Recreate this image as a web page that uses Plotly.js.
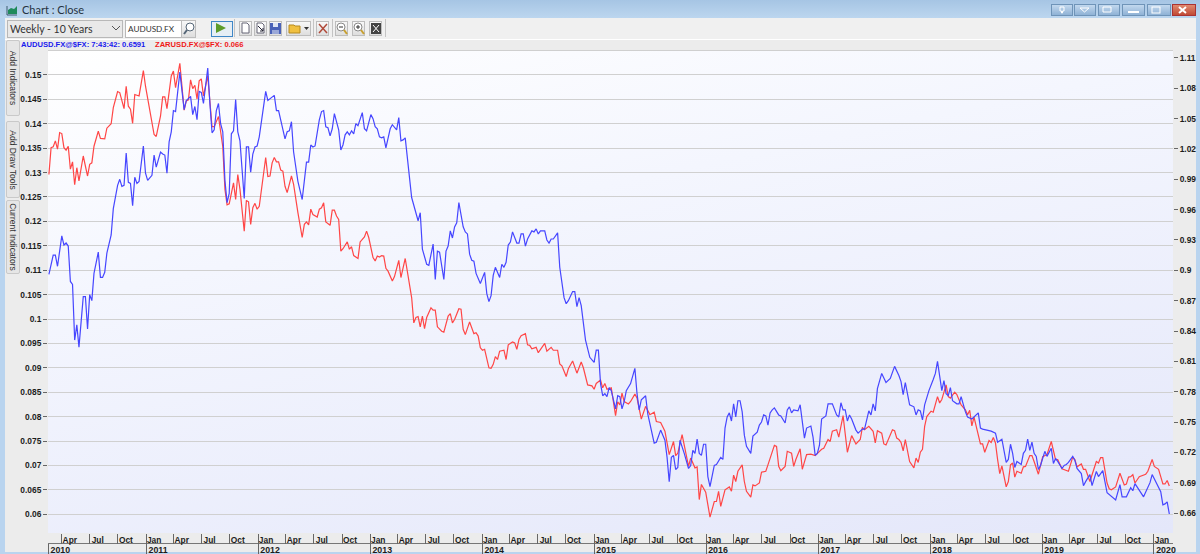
<!DOCTYPE html>
<html><head><meta charset="utf-8">
<script src="https://cdn.plot.ly/plotly-3.0.1.min.js"></script>
<style>
html,body{margin:0;padding:0;background:#f0f0f0;overflow:hidden}
#win{position:relative;width:1200px;height:554px;overflow:hidden;background:#f0f0f0;font-family:Lato,"Open Sans",sans-serif}
.a{position:absolute}
#titlebar{left:0;top:0;width:1200px;height:18px;background:linear-gradient(#a6c5e4,#bcd6ef)}
#fl{left:0;top:18px;width:5px;height:536px;background:#b9d4ef}
#fr{left:1196px;top:18px;width:4px;height:536px;background:#b9d4ef}
#fb{left:0;top:552px;width:1200px;height:2px;background:#b9d4ef}
#panel{left:5px;top:39px;width:1191px;height:513px;background:#ececec;border-top:1px solid #fff}
#plotbg{left:48px;top:50px;width:1125px;height:483px;background:linear-gradient(168deg,#ffffff 0%,#f4f6fe 35%,#e4e7fa 100%);border-top:1px solid #cfcfcf;box-sizing:border-box}
#gd{left:0;top:0;width:1200px;height:554px}
.tab{background:#e6e6e6;border:1px solid #c9c9c9;border-radius:2px;width:12px;box-sizing:content-box}
.tab span{position:absolute;left:50%;top:50%;transform:translate(-50%,-50%) rotate(90deg);white-space:nowrap;font-family:"Liberation Sans",sans-serif;font-size:8.5px;color:#333}
.field{background:#fff;border:1px solid #b8b8b8;font-size:10.5px;color:#333;line-height:16px;height:16px;padding-left:2px;box-sizing:content-box}
.btn{background:linear-gradient(#f8f8f8,#dedede);border:1px solid #bdbdbd;box-sizing:border-box}
.wb{top:4px;height:12px;width:22px;background:linear-gradient(#c2d8ee,#8fb2d5);border:1px solid #6f94b8;box-sizing:border-box}
.sep{width:1px;height:18px;top:19px;background:#c4c4c4}
</style></head>
<body>
<div id="win">
 <div class="a" id="titlebar"></div>
 <div class="a" id="panel"></div>
 <div class="a" id="fl"></div><div class="a" id="fr"></div><div class="a" id="fb"></div>
 <div class="a" id="plotbg"></div>
 <svg class="a" style="left:6px;top:3px" width="12" height="13"><path d="M1 12V3M1 12H11" stroke="#3c5a6e" fill="none"/><path d="M2 11V7L5 5L8 6L11 3V11Z" fill="#1f8a5b"/></svg>
 <div class="a field" style="left:7px;top:20px;width:112px;background:#e9e9e9">Weekly - 10 Years</div>
 <svg class="a" style="left:112px;top:26px" width="8" height="5"><path d="M0 0L4 4L8 0" stroke="#555" fill="none"/></svg>
 <div class="a field" style="left:125px;top:20px;width:53px;font-size:8.2px">AUDUSD.FX</div>
 <div class="a btn" style="left:181px;top:20px;width:15px;height:18px"></div>
 <svg class="a" style="left:182px;top:21px" width="14" height="15"><circle cx="8" cy="6" r="4" fill="#fff" stroke="#567"/><path d="M5 9L2 13" stroke="#567" stroke-width="2"/></svg>
 <div class="a" style="left:211px;top:21px;width:20px;height:14px;border:1px solid #3f87c7;background:#e6eef5;box-sizing:content-box"></div>
 <svg class="a" style="left:216px;top:23px" width="11" height="11"><path d="M0 0L10 5L0 10Z" fill="#5d9c2a"/></svg>
 <div class="a sep" style="left:234px"></div>
 <div class="a btn" style="left:239px;top:21px;width:13px;height:15px"></div>
 <svg class="a" style="left:240px;top:22px" width="11" height="13"><path d="M2 1H7L9 3V11H2Z" fill="#fff" stroke="#667"/></svg>
 <div class="a btn" style="left:254px;top:21px;width:13px;height:15px"></div>
 <svg class="a" style="left:255px;top:22px" width="11" height="13"><path d="M2 1H7L9 3V11H2Z" fill="#fff" stroke="#667"/><path d="M3 4L8 9M8 6V9H5" stroke="#223" fill="none"/></svg>
 <div class="a btn" style="left:269px;top:21px;width:13px;height:15px"></div>
 <svg class="a" style="left:270px;top:23px" width="11" height="11"><rect x="0" y="0" width="11" height="11" fill="#4a62b8"/><rect x="3" y="0" width="5" height="4" fill="#dfe6f5"/><rect x="2" y="7" width="7" height="4" fill="#9aa8d8"/></svg>
 <div class="a btn" style="left:286px;top:21px;width:25px;height:15px"></div>
 <svg class="a" style="left:288px;top:23px" width="22" height="11"><path d="M1 2H6L7 3H12V10H1Z" fill="#f0c040" stroke="#b58a20"/><path d="M16 4H21L18.500 7Z" fill="#333"/></svg>
 <div class="a sep" style="left:313px"></div>
 <div class="a btn" style="left:316px;top:21px;width:13px;height:15px"></div>
 <svg class="a" style="left:317px;top:22px" width="12" height="13"><path d="M2 2L10 11M10 2L2 11" stroke="#b04a3a" stroke-width="1.500"/></svg>
 <div class="a sep" style="left:332px"></div>
 <div class="a btn" style="left:335px;top:21px;width:13px;height:15px"></div>
 <div class="a btn" style="left:352px;top:21px;width:13px;height:15px"></div>
 <div class="a btn" style="left:369px;top:21px;width:13px;height:15px"></div>
 <svg class="a" style="left:336px;top:22px" width="12" height="13"><circle cx="5" cy="5" r="4" fill="#fff" stroke="#888"/><path d="M3 5H7" stroke="#333"/><path d="M8 8L11 12" stroke="#c8a030" stroke-width="2"/></svg>
 <svg class="a" style="left:353px;top:22px" width="12" height="13"><circle cx="5" cy="5" r="4" fill="#fff" stroke="#888"/><path d="M3 5H7M5 3V7" stroke="#333"/><path d="M8 8L11 12" stroke="#c8a030" stroke-width="2"/></svg>
 <svg class="a" style="left:370px;top:22px" width="12" height="13"><rect x="1" y="1" width="10" height="11" fill="#444"/><path d="M3 3L9 10M9 3L3 10" stroke="#fff"/></svg>
 <div class="a sep" style="left:385px"></div>
 <div class="a tab" style="left:6px;top:40px;height:74px"><span>Add Indicators</span></div>
 <div class="a tab" style="left:6px;top:121px;height:75px"><span>Add Draw Tools</span></div>
 <div class="a tab" style="left:6px;top:200px;height:72px"><span>Current Indicators</span></div>
 <div class="a wb" style="left:1051px"></div><div class="a wb" style="left:1074px"></div><div class="a wb" style="left:1098px"></div>
 <div class="a wb" style="left:1122px;width:23px"></div><div class="a wb" style="left:1147px;width:24px"></div>
 <div class="a wb" style="left:1172px;width:24px;background:linear-gradient(#e08a70,#c04a35);border-color:#a33"></div>
 <svg class="a" style="left:1051px;top:4px" width="146" height="12"><path d="M9 3h4v4h-1.500v2h-1v-2H9ZM29 4H38L33.500 8ZM52 3L60 3V8L52 8Z" fill="none" stroke="#fff"/><path d="M77 8H88" stroke="#fff" stroke-width="2"/><rect x="101" y="3" width="8" height="6" fill="none" stroke="#fff"/><path d="M128 3L135 9M135 3L128 9" stroke="#fff" stroke-width="2"/></svg>
 <div class="a" id="gd"></div>
</div>
<script>
// Weeks counted from the first bar of the ten-year window
const firstBar = Date.UTC(2010, 1, 18);
const audWeeks = [
0,1,2,3,4,6,7,8,9,10,11,12,13,14,15,16,17,18,19,20,21,23,24,25,26,27,29,30,32,33,
34,35,36,37,38,39,40,41,42,44,45,46,48,49,50,52,53,54,55,56,57,58,59,61,63,64,66,67,68,69,
70,71,72,74,75,76,77,78,79,80,81,82,83,84,85,86,87,88,89,91,92,93,94,95,96,97,98,101,102,103,
105,106,107,110,111,112,113,114,116,118,120,121,122,123,124,126,127,128,129,130,131,132,133,135,136,137,138,139,140,141,
142,143,144,146,147,148,150,151,152,153,154,155,156,157,159,160,162,163,164,165,166,169,172,173,174,176,177,179,180,181,
182,184,185,186,187,188,189,190,191,193,194,195,196,197,198,199,201,203,204,205,206,207,208,210,211,212,213,214,215,216,
218,219,220,221,222,223,225,226,227,228,229,231,232,233,234,235,237,238,239,240,241,242,244,245,246,247,248,250,252,254,
255,256,257,258,259,260,261,262,264,265,266,267,268,269,271,273,274,275,276,278,279,281,282,283,285,287,288,289,290,291,
292,293,294,296,298,299,300,301,302,303,304,305,306,307,308,310,311,313,314,315,316,317,318,319,320,321,322,323,324,325,
327,328,330,331,332,333,334,335,336,337,338,340,341,343,344,345,346,347,349,350,351,352,353,355,356,357,358,359,360,361,
362,363,365,367,368,369,370,371,372,373,374,376,377,378,379,380,382,383,384,385,386,388,390,392,394,396,397,398,399,401,
403,404,405,406,407,408,410,412,413,414,415,416,417,418,419,420,421,423,424,425,427,428,430,433,434,435,437,439,441,442,
444,446,447,448,449,450,451,453,454,455,456,457,458,459,460,461,462,464,465,467,468,469,470,472,473,474,475,477,478,479,
481,482,483,485,486,488,489,491,493,497,499,500,502,504,505,506,510,512,513,514,517,518,519,520,521,522];
const audClose = [
.896,.907,.915,.915,.904,.934,.925,.927,.924,.889,.886,.831,.846,.824,.854,.874,.874,.842,.876,.870,.897,.918,.893,.893,.898,.917,.935,.961,.984,.990,
.983,.984,1.016,.987,.986,.964,.992,.986,.988,1.023,.996,.989,.994,1.014,1.002,1.017,1.015,1.014,.996,1.027,1.037,1.058,1.057,1.096,1.059,1.068,1.072,1.054,1.062,1.049,
1.077,1.076,1.065,1.100,1.065,1.036,1.039,1.058,1.065,1.045,1.037,.989,.967,.976,1.035,1.038,1.069,1.037,1.028,.971,1.022,1.022,.997,1.015,1.022,1.023,1.032,1.077,1.068,1.070,
1.073,1.058,1.058,1.030,1.037,1.038,1.047,1.017,.988,.970,1.007,1.007,1.024,1.022,1.023,1.049,1.057,1.058,1.042,1.041,1.033,1.040,1.055,1.039,1.019,1.024,1.034,1.037,1.034,1.038,
1.035,1.045,1.043,1.056,1.040,1.038,1.054,1.050,1.042,1.040,1.032,1.031,1.032,1.021,1.040,1.044,1.039,1.051,1.028,1.029,1.031,.972,.949,.957,.921,.906,.905,.926,.891,.919,
.918,.891,.919,.924,.939,.932,.943,.947,.967,.943,.938,.936,.916,.910,.909,.897,.887,.898,.877,.869,.875,.895,.903,.893,.906,.903,.908,.925,.928,.938,
.927,.927,.936,.936,.924,.931,.939,.938,.941,.936,.939,.939,.930,.927,.931,.931,.937,.903,.890,.873,.867,.870,.879,.879,.864,.873,.865,.831,.814,.809,
.821,.821,.788,.776,.778,.775,.784,.781,.763,.776,.775,.763,.770,.781,.788,.803,.778,.762,.772,.776,.758,.740,.729,.730,.742,.732,.715,.691,.715,.717,
.703,.705,.732,.719,.704,.707,.722,.719,.733,.719,.717,.728,.728,.696,.686,.707,.708,.715,.713,.744,.755,.759,.751,.768,.755,.771,.771,.760,.737,.726,
.719,.736,.740,.747,.750,.757,.756,.747,.759,.762,.764,.757,.756,.749,.762,.765,.759,.762,.761,.767,.752,.734,.744,.746,.735,.717,.719,.727,.753,.755,
.756,.768,.768,.757,.755,.769,.762,.762,.751,.757,.753,.742,.739,.741,.743,.743,.761,.757,.768,.761,.783,.798,.789,.793,.805,.796,.790,.777,.789,.767,
.765,.757,.762,.761,.752,.767,.781,.792,.798,.810,.793,.781,.791,.778,.776,.784,.771,.768,.768,.775,.760,.755,.753,.759,.744,.743,.742,.741,.739,.730,
.733,.710,.713,.728,.719,.705,.711,.708,.719,.722,.733,.722,.730,.719,.716,.703,.707,.721,.716,.724,.709,.714,.711,.704,.707,.708,.710,.716,.712,.704,
.699,.687,.691,.698,.687,.701,.696,.702,.680,.673,.688,.676,.676,.685,.682,.689,.676,.686,.690,.698,.686,.681,.668,.669,.671,.659];
const zarWeeks = [
0,1,2,3,4,5,6,7,8,9,10,11,12,13,14,16,18,19,20,21,23,24,26,27,29,30,32,33,35,36,
37,38,39,40,42,44,45,49,50,52,53,54,55,57,58,59,61,63,64,65,66,67,68,69,70,71,72,74,76,77,
79,81,82,83,84,86,87,88,89,91,92,93,94,95,96,97,98,101,102,103,104,105,106,107,108,109,110,111,113,114,
116,118,119,120,121,122,123,124,125,126,127,128,129,131,132,133,134,135,136,137,139,140,141,142,144,145,147,148,149,151,
152,153,154,155,156,157,158,160,161,163,164,166,168,169,170,171,172,173,174,175,176,178,179,180,181,183,184,186,187,188,
189,191,192,193,194,196,198,199,200,201,202,203,205,206,207,208,209,210,212,213,214,216,217,218,219,220,222,223,224,225,
227,228,231,232,234,235,237,238,239,241,242,244,246,248,249,251,253,254,255,257,258,259,260,261,262,264,265,266,267,268,
270,271,273,274,276,278,280,282,283,285,287,289,291,292,293,295,298,299,301,302,303,304,306,308,310,311,312,313,315,317,
318,319,320,321,323,324,325,327,328,329,331,332,334,335,336,338,339,340,341,343,344,346,347,348,350,351,353,355,357,358,
360,361,362,363,364,365,367,368,370,372,374,376,378,379,380,382,384,385,386,388,389,390,393,394,395,396,397,398,399,401,
403,404,405,406,407,408,409,411,412,414,415,416,418,419,420,422,423,425,427,428,429,430,431,433,434,435,436,438,439,440,
441,442,443,444,446,447,448,449,450,451,453,454,455,457,458,459,461,463,465,467,469,470,472,475,477,478,479,481,482,483,
485,488,489,490,491,493,494,495,497,499,501,502,503,504,505,506,508,511,512,514,515,517,519,520,521,522];
const zarClose = [
.1296,.1351,.1353,.1365,.1348,.1382,.1380,.1351,.1346,.1354,.1307,.1322,.1275,.1310,.1283,.1334,.1293,.1317,.1320,.1354,.1385,.1370,.1369,.1391,.1400,.1433,.1466,.1464,.1431,.1477,
.1436,.1430,.1401,.1460,.1457,.1509,.1477,.1378,.1374,.1416,.1455,.1455,.1431,.1498,.1508,.1474,.1524,.1428,.1447,.1449,.1490,.1472,.1479,.1451,.1488,.1492,.1457,.1498,.1394,.1394,
.1415,.1353,.1266,.1234,.1236,.1279,.1245,.1296,.1266,.1180,.1243,.1240,.1194,.1228,.1237,.1225,.1231,.1331,.1292,.1293,.1320,.1331,.1322,.1322,.1305,.1303,.1272,.1259,.1293,.1276,
.1218,.1167,.1194,.1199,.1193,.1225,.1214,.1211,.1209,.1225,.1228,.1238,.1199,.1192,.1223,.1223,.1211,.1204,.1139,.1144,.1158,.1143,.1148,.1130,.1124,.1158,.1168,.1180,.1167,.1126,
.1119,.1129,.1127,.1130,.1129,.1104,.1098,.1078,.1087,.1120,.1085,.1124,.1068,.1044,.0992,.1003,.1005,.0984,.1006,.0980,.1003,.1023,.1018,.1018,.0984,.0975,.0973,.1006,.1011,.0992,
.0999,.1021,.1020,.0979,.0968,.0994,.0970,.0972,.0965,.0941,.0936,.0938,.0900,.0899,.0907,.0923,.0917,.0934,.0936,.0917,.0947,.0953,.0951,.0938,.0958,.0966,.0970,.0947,.0946,.0939,
.0942,.0931,.0950,.0934,.0942,.0936,.0936,.0908,.0904,.0882,.0898,.0914,.0889,.0912,.0900,.0865,.0863,.0856,.0868,.0875,.0859,.0868,.0856,.0858,.0859,.0802,.0830,.0824,.0848,.0831,
.0826,.0831,.0846,.0838,.0795,.0821,.0804,.0809,.0790,.0788,.0770,.0722,.0749,.0720,.0725,.0763,.0698,.0715,.0695,.0697,.0630,.0661,.0645,.0594,.0626,.0626,.0647,.0616,.0650,.0656,
.0647,.0680,.0667,.0688,.0701,.0667,.0647,.0635,.0660,.0658,.0664,.0686,.0688,.0701,.0715,.0741,.0739,.0698,.0689,.0698,.0729,.0725,.0698,.0712,.0734,.0692,.0722,.0723,.0720,.0725,
.0733,.0735,.0744,.0753,.0749,.0770,.0773,.0758,.0802,.0727,.0761,.0744,.0753,.0778,.0773,.0780,.0770,.0746,.0771,.0766,.0744,.0742,.0773,.0771,.0756,.0753,.0747,.0730,.0753,.0708,
.0695,.0715,.0706,.0727,.0733,.0780,.0800,.0811,.0809,.0841,.0828,.0835,.0865,.0841,.0838,.0850,.0845,.0824,.0814,.0804,.0813,.0781,.0799,.0766,.0744,.0744,.0727,.0751,.0747,.0757,
.0746,.0712,.0683,.0699,.0656,.0667,.0701,.0705,.0676,.0688,.0684,.0697,.0698,.0720,.0720,.0708,.0682,.0718,.0722,.0749,.0712,.0712,.0693,.0688,.0717,.0712,.0697,.0703,.0692,.0692,
.0667,.0708,.0705,.0716,.0716,.0664,.0652,.0650,.0656,.0684,.0660,.0662,.0676,.0677,.0681,.0664,.0677,.0682,.0688,.0712,.0698,.0692,.0662,.0662,.0669,.0658];
const leftTicks = [.15,.145,.14,.135,.13,.125,.12,.115,.11,.105,.1,.095,.09,.085,.08,.075,.07,.065,.06];
const leftLabels = ['0.15','0.145','0.14','0.135','0.13','0.125','0.12','0.115','0.11','0.105','0.1','0.095','0.09','0.085','0.08','0.075','0.07','0.065','0.06'];
const rightTicks = [1.11,1.08,1.05,1.02,.99,.96,.93,.9,.87,.84,.81,.78,.75,.72,.69,.66];
const rightLabels = ['1.11','1.08','1.05','1.02','0.99','0.96','0.93','0.9','0.87','0.84','0.81','0.78','0.75','0.72','0.69','0.66'];
const years = [2010,2011,2012,2013,2014,2015,2016,2017,2018,2019,2020];
const quarters = [['01-01','Jan'],['04-01','Apr'],['07-01','Jul'],['10-01','Oct']];

const toDate = w => new Date(firstBar + w*7*864e5).toISOString().slice(0,10);
const quarterVals = [], quarterText = [];
years.forEach(y => quarters.forEach(q => {
  const d = y + '-' + q[0];
  if (d > '2010-02-18' && d < '2020-03-01') { quarterVals.push(d); quarterText.push(q[1]); }
}));
const yearVals = ['2010-02-16'].concat(years.slice(1).map(y => y + '-01-01'));
const xRange = ['2010-02-15','2020-03-03'];
const tf = {family:'Liberation Sans, Arial, sans-serif', size:8.4, color:'#1c1c1c', weight:'bold'};

if (audWeeks.length !== audClose.length || zarWeeks.length !== zarClose.length)
  console.error('length mismatch', audWeeks.length, audClose.length, zarWeeks.length, zarClose.length);

const traces = [
 {x:zarWeeks.map(toDate), y:zarClose, xaxis:'x', yaxis:'y', mode:'lines', name:'ZARUSD.FX@$FX',
  line:{color:'#ff4646', width:1.2}, showlegend:false, hoverinfo:'skip'},
 {x:yearVals, y:yearVals.map(()=>null), xaxis:'x2', yaxis:'y', mode:'lines', showlegend:false, hoverinfo:'skip'},
 {x:audWeeks.map(toDate), y:audClose, xaxis:'x', yaxis:'y2', mode:'lines', name:'AUDUSD.FX@$FX',
  line:{color:'#4646ff', width:1.2}, showlegend:false, hoverinfo:'skip'}
];
const layout = {
 width:1200, height:554, autosize:false,
 margin:{l:48, r:27, t:50, b:0, pad:0},
 paper_bgcolor:'rgba(0,0,0,0)', plot_bgcolor:'rgba(0,0,0,0)',
 showlegend:false,
 title:{text:'Chart : Close', x:22/1200, xanchor:'left', xref:'container', y:1-10.5/554, yanchor:'middle', yref:'container',
        font:{family:'Lato, Open Sans, sans-serif', size:11, color:'#26323f'}, pad:{l:0,r:0,t:0,b:0}},
 xaxis:{type:'date', range:xRange, domain:[0,1], anchor:'y', showgrid:false, zeroline:false, showline:false,
        tickmode:'array', tickvals:quarterVals, ticktext:quarterText, ticks:'outside', ticklen:10, tickcolor:'#666', tickwidth:1,
        ticklabelshift:8, ticklabelstandoff:-11, tickangle:0, tickfont:tf, automargin:false},
 xaxis2:{type:'date', range:xRange, overlaying:'x', anchor:'free', position:(554-543)/504, showgrid:false, zeroline:false,
        showline:true, linecolor:'#777', linewidth:1,
        tickmode:'array', tickvals:yearVals, ticktext:years.map(String), ticks:'outside', ticklen:10, tickcolor:'#666', tickwidth:1,
        ticklabelshift:12, ticklabelstandoff:-12, tickangle:0, tickfont:Object.assign({},tf,{size:8.8}), automargin:false},
 yaxis:{range:[.05615,.15512], domain:[21/504,1], showgrid:true, gridcolor:'#d0d0d0', gridwidth:1, zeroline:false, showline:false,
        tickmode:'array', tickvals:leftTicks, ticktext:leftLabels, ticks:'outside', ticklen:4, tickcolor:'#666', tickwidth:1, tickfont:tf, automargin:false},
 yaxis2:{range:[.64022,1.1179], domain:[21/504,1], overlaying:'y', side:'right', anchor:'x', showgrid:false, zeroline:false, showline:false,
        tickmode:'array', tickvals:rightTicks, ticktext:rightLabels, ticks:'outside', ticklen:4, tickcolor:'#666', tickwidth:1, tickfont:tf, automargin:false},
 annotations:[
  {text:'<b>AUDUSD.FX@$FX: 7:43:42: 0.6591</b>', xref:'paper', yref:'paper', x:-29/1125, y:(554-44.5)/504, xanchor:'left', yanchor:'middle', showarrow:false,
   font:{family:'Liberation Sans, sans-serif', size:7.6, color:'#1a1aee'}},
  {text:'<b>ZARUSD.FX@$FX: 0.066</b>', xref:'paper', yref:'paper', x:105/1125, y:(554-44.5)/504, xanchor:'left', yanchor:'middle', showarrow:false,
   font:{family:'Liberation Sans, sans-serif', size:7.6, color:'#f01818'}}
 ]
};
Plotly.newPlot('gd', traces, layout, {displayModeBar:false, staticPlot:true});
</script>
</body></html>
